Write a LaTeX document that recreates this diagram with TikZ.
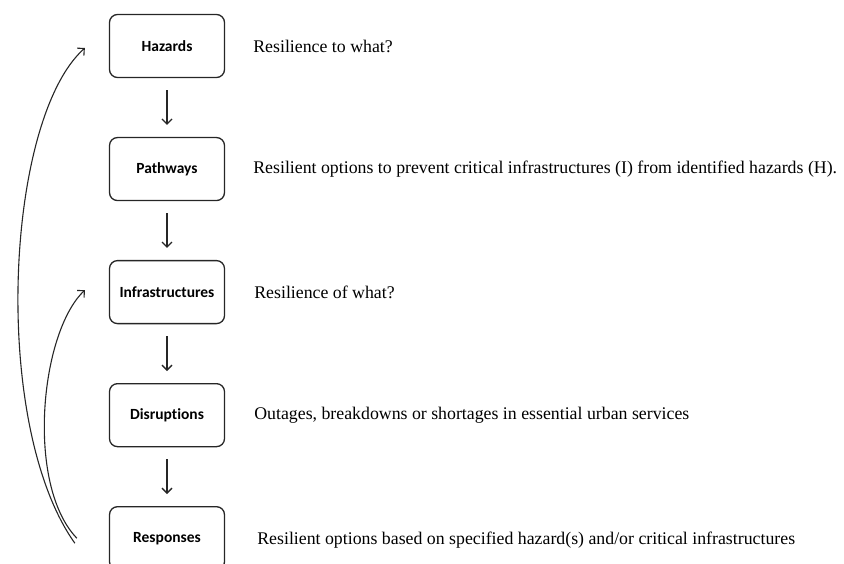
\documentclass[tikz,border=0pt]{standalone}
\usepackage{fontspec}
\setmainfont{Liberation Serif}
\newfontfamily\boxfont[Ligatures=NoCommon]{Carlito}
\usetikzlibrary{positioning}
\usetikzlibrary{arrows.meta}

\tikzset{
  stagebox/.style={draw=black!85,line width=1.3pt,rounded corners=8pt,
    minimum width=115pt,minimum height=63pt,inner sep=0pt,
    font=\boxfont\bfseries\fontsize{15.5}{18}\selectfont},
  note/.style={anchor=west,inner sep=0pt,font=\fontsize{17.8}{21}\selectfont},
  flow/.style={black!85,line width=1.3pt,-{Straight Barb[length=5pt,width=10pt]}},
}

\begin{document}
\begin{tikzpicture}[x=1pt,y=1pt]
\useasboundingbox (0,0) rectangle (844,-563);
% the five stages
\node[stagebox] (hazards) at (167,-46) {Hazards};
\node[stagebox,below=58.75pt of hazards] (pathways) {Pathways};
\node[stagebox,below=58.75pt of pathways] (infra) {Infrastructures};
\node[stagebox,below=58.75pt of infra] (disrupt) {Disruptions};
\node[stagebox,below=58.75pt of disrupt] (responses) {Responses};
% what each stage means
\node[note,right=28pt of hazards] (hazards-txt) {Resilience to what?};
\node[note,right=28pt of pathways] (pathways-txt) {Resilient options to prevent critical infrastructures (I) from identified hazards (H).};
\node[note,right=29pt of infra] (infra-txt) {Resilience of what?};
\node[note,right=29pt of disrupt] (disrupt-txt) {Outages, breakdowns or shortages in essential urban services};
\node[note,right=32pt,yshift=-1.5pt] at (responses.east) (responses-txt) {Resilient options based on specified hazard(s) and/or critical infrastructures};
% downward steps
\foreach \a/\b in {hazards/pathways,pathways/infra,infra/disrupt,disrupt/responses}
  \draw[flow] ([yshift=-12pt]\a.south) -- ([yshift=12pt]\b.north);
% feedback loops
\coordinate (loop-out) at ([xshift=-34pt,yshift=-5pt]responses.west);
\coordinate (loop-in) at ([xshift=-32pt]responses.west);
\coordinate (hazards-tip) at ([xshift=-24pt,yshift=-2pt]hazards.west);
\coordinate (infra-tip) at ([xshift=-24pt,yshift=2pt]infra.west);
\draw[flow,line width=1.1pt] (loop-out) .. controls +(-84,118) and +(-80,-72) .. (hazards-tip);
\draw[flow,line width=1.1pt] (loop-in) .. controls +(-51,53) and +(-45,-43) .. (infra-tip);
\end{tikzpicture}
\end{document}
